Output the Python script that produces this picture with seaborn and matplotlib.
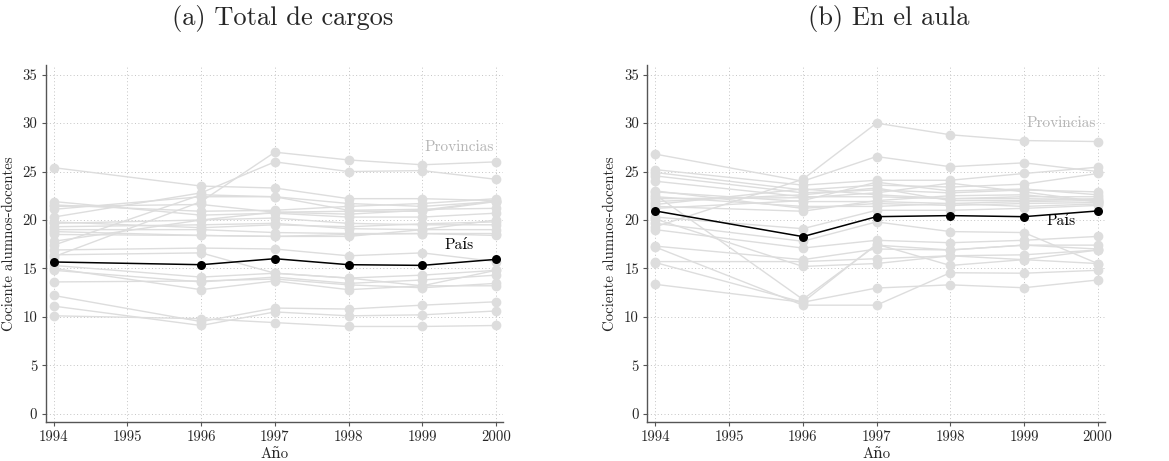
import matplotlib
matplotlib.use("Agg")
import matplotlib.pyplot as plt
import numpy as np
import pandas as pd
import seaborn as sns

years = [1994, 1996, 1997, 1998, 1999, 2000]

# Panel (a): total de cargos
pais_total = [15.66, 15.38, 16.0, 15.38, 15.31, 15.93]
prov_total = [
    [25.4, 23.5, 23.3, 22.2, 22.2, 22.0],
    [16.2, 21.9, 27.0, 26.2, 25.7, 26.0],
    [20.3, 22.8, 26.0, 25.0, 25.1, 24.2],
    [21.9, 20.5, 20.7, 20.3, 20.3, 20.7],
    [21.55, 20.9, 21.0, 21.4, 21.7, 22.2],
    [21.1, 22.4, 22.4, 21.7, 21.4, 21.9],
    [19.65, 20.0, 20.2, 19.65, 19.5, 19.5],
    [19.3, 19.5, 19.65, 19.1, 19.0, 19.0],
    [17.4, 22.6, 22.4, 21.0, 21.1, 21.2],
    [19.0, 19.0, 18.7, 18.6, 18.6, 18.4],
    [18.5, 18.4, 18.3, 18.3, 19.0, 20.0],
    [17.8, 20.0, 20.8, 20.9, 20.9, 21.9],
    [18.8, 18.4, 18.3, 18.5, 18.6, 18.6],
    [16.9, 17.1, 17.0, 16.3, 16.6, 15.7],
    [16.4, 16.6, 14.5, 14.0, 13.2, 14.8],
    [15.3, 14.1, 14.5, 14.0, 14.3, 14.8],
    [14.8, 13.6, 14.1, 13.45, 13.8, 14.3],
    [15.0, 12.8, 13.7, 12.8, 13.2, 13.2],
    [13.6, 13.7, 13.9, 13.3, 13.0, 13.45],
    [12.2, 9.5, 10.9, 10.8, 11.2, 11.55],
    [11.1, 9.1, 10.5, 10.1, 10.2, 10.6],
    [10.1, 9.8, 9.4, 9.0, 9.0, 9.1],
    [21.4, 21.6, 20.8, 20.6, 21.0, 22.0],
    [19.8, 19.2, 19.5, 19.3, 19.6, 19.8],
]

# Panel (b): en el aula
pais_aula = [20.93, 18.28, 20.34, 20.45, 20.34, 20.93]
prov_aula = [
    [19.3, 24.2, 30.0, 28.8, 28.2, 28.1],
    [26.8, 24.0, 26.55, 25.5, 25.9, 25.0],
    [25.2, 23.6, 24.1, 24.1, 24.8, 25.45],
    [24.9, 23.1, 23.6, 23.4, 23.7, 24.8],
    [24.55, 22.8, 23.1, 22.8, 23.1, 22.9],
    [24.0, 22.4, 22.4, 22.2, 22.4, 22.4],
    [22.9, 21.9, 21.9, 21.7, 21.9, 22.0],
    [22.4, 21.4, 21.4, 21.7, 21.4, 21.65],
    [21.9, 22.6, 23.3, 22.0, 22.0, 22.2],
    [21.4, 20.9, 22.0, 22.5, 22.6, 21.9],
    [22.6, 11.8, 17.4, 16.9, 17.4, 17.0],
    [20.1, 15.2, 15.5, 16.3, 15.9, 16.9],
    [19.65, 17.8, 19.8, 18.8, 18.7, 15.5],
    [19.0, 17.1, 17.9, 17.65, 17.9, 18.3],
    [17.3, 15.9, 17.0, 16.9, 17.4, 17.4],
    [15.7, 15.7, 16.0, 16.3, 16.4, 16.9],
    [17.2, 11.2, 11.2, 14.55, 14.5, 14.8],
    [15.6, 11.5, 12.97, 13.3, 13.0, 13.8],
    [13.35, 11.5, 17.5, 15.3, 15.9, 15.5],
    [22.2, 22.3, 22.8, 23.8, 22.9, 21.9],
    [21.6, 23.2, 22.6, 22.2, 22.2, 22.1],
    [20.3, 19.1, 21.0, 21.0, 21.2, 21.5],
    [23.0, 21.2, 21.7, 21.5, 21.7, 21.8],
    [21.2, 22.0, 23.9, 23.0, 23.2, 22.6],
]

titles = ["(a) Total de cargos", "(b) En el aula"]
xticks = [1994, 1995, 1996, 1997, 1998, 1999, 2000]
yticks = [0, 5, 10, 15, 20, 25, 30, 35]
ylabel = "Cociente alumnos-docentes"
xlabel = "Año"
label_prov = "Provincias"
label_pais = "País"

sns.set_theme(style="white")
plt.rcParams["font.family"] = ["cmr10", "DejaVu Serif"]
plt.rcParams["mathtext.fontset"] = "cm"
plt.rcParams["axes.formatter.use_mathtext"] = True

GRAY = "#dddddd"
LABEL_GRAY = "#b5b5b5"
SPINE = "#555555"
FS = 10.7


def long_frame(rows):
    recs = []
    for i, row in enumerate(rows):
        for y, v in zip(years, row):
            recs.append({"prov": i, "anio": y, "valor": v})
    return pd.DataFrame(recs)


fig = plt.figure(figsize=(11.69, 4.61), dpi=100)
axes = [
    fig.add_axes([0.0391, 0.0839, 0.3914, 0.775]),
    fig.add_axes([0.5537, 0.0839, 0.3916, 0.775]),
]
panels = [(prov_total, pais_total, 27.5, 17.4), (prov_aula, pais_aula, 30.0, 19.9)]

for ax, (prov, pais, y_prov, y_pais) in zip(axes, panels):
    df = long_frame(prov)
    sns.lineplot(data=df, x="anio", y="valor", units="prov", estimator=None,
                 color=GRAY, marker="o", markersize=7, markeredgewidth=0,
                 linewidth=1.0, ax=ax, zorder=2)
    dp = pd.DataFrame({"anio": years, "valor": pais})
    sns.lineplot(data=dp, x="anio", y="valor", color="black", marker="o",
                 markersize=6.5, markeredgewidth=0, linewidth=1.1, ax=ax, zorder=3)

    ax.set_xlim(1993.89, 2000.1)
    ax.set_ylim(-0.9, 36)
    ax.set_xticks(xticks)
    ax.set_yticks(yticks)
    ax.set_xticklabels([str(t) for t in xticks])
    ax.set_yticklabels([str(t) for t in yticks])
    ax.tick_params(axis="both", which="major", labelsize=FS, length=3,
                   width=0.8, color=SPINE, pad=3, direction="out",
                   bottom=True, left=True)
    ax.grid(True, linestyle=(0, (1, 2.5)), color="#c4c4c4", linewidth=0.7)
    ax.set_axisbelow(True)
    for side in ["top", "right"]:
        ax.spines[side].set_visible(False)
    for side in ["left", "bottom"]:
        ax.spines[side].set_color(SPINE)
        ax.spines[side].set_linewidth(1.0)
    ax.set_xlabel(xlabel, fontsize=FS, labelpad=2)
    ax.set_ylabel(ylabel, fontsize=FS, labelpad=5)

    ax.text(1999.5, y_prov, label_prov, color=LABEL_GRAY, fontsize=11,
            ha="center", va="center")
    ax.text(1999.5, y_pais, label_pais, color="black", fontsize=11,
            ha="center", va="center")

fig.text(0.2418, 0.959, titles[0], fontsize=19, ha="center", va="center")
fig.text(0.7605, 0.959, titles[1], fontsize=19, ha="center", va="center")

fig.savefig("out.png", dpi=100)
